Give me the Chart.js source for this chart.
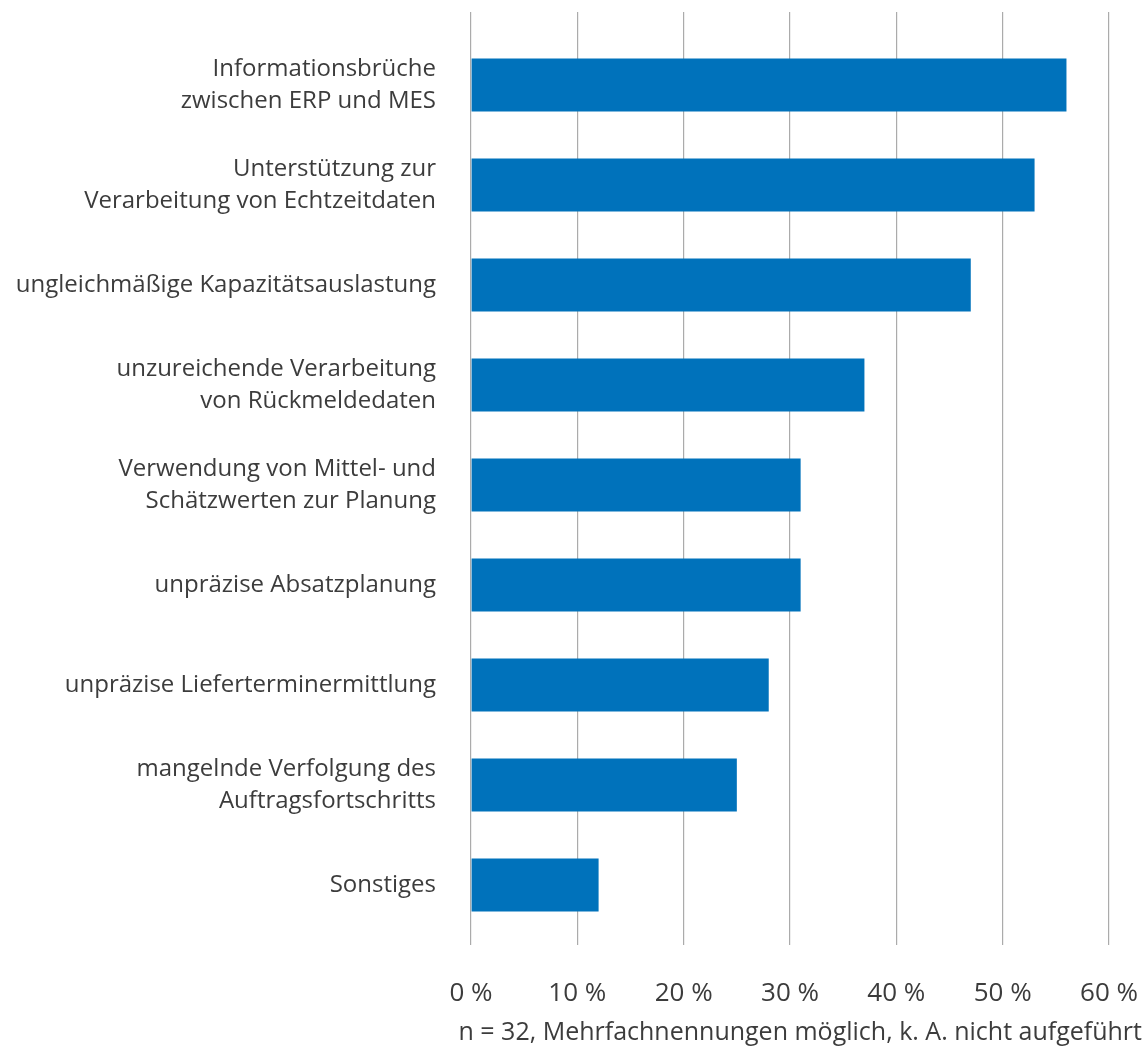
<!DOCTYPE html>
<html>
<head>
<meta charset="utf-8">
<script src="https://cdn.jsdelivr.net/npm/chart.js@4"></script>
<style>
  html, body { margin: 0; padding: 0; background: #fff; }
  #wrap { width: 1142px; height: 1050px; }
</style>
</head>
<body>
<div id="wrap"><canvas id="hemmnisse"></canvas></div>
<script>
const categories = [
    ["Informationsbrüche", "zwischen ERP und MES"],
    ["Unterstützung zur", "Verarbeitung von Echtzeitdaten"],
    "ungleichmäßige Kapazitätsauslastung",
    ["unzureichende Verarbeitung", "von Rückmeldedaten"],
    ["Verwendung von Mittel- und", "Schätzwerten zur Planung"],
    "unpräzise Absatzplanung",
    "unpräzise Lieferterminermittlung",
    ["mangelnde Verfolgung des", "Auftragsfortschritts"],
    "Sonstiges"
];
const values = [56, 53, 47, 37, 31, 31, 28, 25, 12];
const tickSteps = [0, 10, 20, 30, 40, 50, 60];
const footnote = "n = 32, Mehrfachnennungen möglich, k. A. nicht aufgeführt";

const textColor = "#3c3c3c";
const gridColor = "#ababab";
const fontFamily = "'Open Sans', 'Noto Sans', sans-serif";

new Chart(document.getElementById("hemmnisse"), {
    type: "bar",
    data: {
        labels: categories,
        datasets: [
            {
                data: values,
                backgroundColor: "#0072bb",
                borderWidth: 0,
                categoryPercentage: 1,
                barPercentage: 0.53
            }
        ]
    },
    options: {
        indexAxis: "y",
        responsive: true,
        maintainAspectRatio: false,
        animation: false,
        layout: {
            padding: { top: 12, right: 0, bottom: 0, left: 0 }
        },
        scales: {
            x: {
                position: "bottom",
                min: tickSteps[0],
                max: tickSteps[tickSteps.length - 1],
                afterBuildTicks: (scale) => {
                    scale.ticks = tickSteps.map(v => ({ value: v }));
                },
                afterFit: (scale) => {
                    scale.paddingLeft = 0;
                    scale.paddingRight = 33;
                    scale.height = 71;
                },
                border: { display: false },
                grid: {
                    color: gridColor,
                    lineWidth: 1.2,
                    drawTicks: true,
                    tickLength: 10,
                    tickColor: gridColor
                },
                ticks: {
                    padding: 33,
                    color: textColor,
                    font: { family: fontFamily, size: 26 },
                    maxRotation: 0,
                    callback: (v) => v + " %"
                }
            },
            x2: {
                position: "top",
                min: tickSteps[0],
                max: tickSteps[tickSteps.length - 1],
                afterBuildTicks: (scale) => {
                    scale.ticks = tickSteps.map(v => ({ value: v }));
                },
                afterFit: (scale) => {
                    scale.paddingLeft = 0;
                    scale.paddingRight = 0;
                    scale.height = 23;
                },
                border: { display: false },
                grid: {
                    drawOnChartArea: false,
                    color: gridColor,
                    lineWidth: 1.2,
                    drawTicks: true,
                    tickLength: 23,
                    tickColor: gridColor
                },
                ticks: { display: false }
            },
            y: {
                border: { display: false },
                grid: { display: false, drawTicks: false },
                afterFit: (scale) => {
                    scale.width = 471;
                    scale.paddingTop = 0;
                    scale.paddingBottom = 0;
                },
                ticks: {
                    padding: 35,
                    color: textColor,
                    font: { family: fontFamily, size: 24, lineHeight: 1.33 }
                }
            }
        },
        plugins: {
            legend: { display: false },
            tooltip: { enabled: false },
            title: {
                display: true,
                text: footnote,
                position: "bottom",
                align: "end",
                color: textColor,
                font: { family: fontFamily, size: 25, weight: "normal" },
                padding: { top: 12, bottom: 2 }
            }
        }
    }
});
</script>
</body>
</html>
